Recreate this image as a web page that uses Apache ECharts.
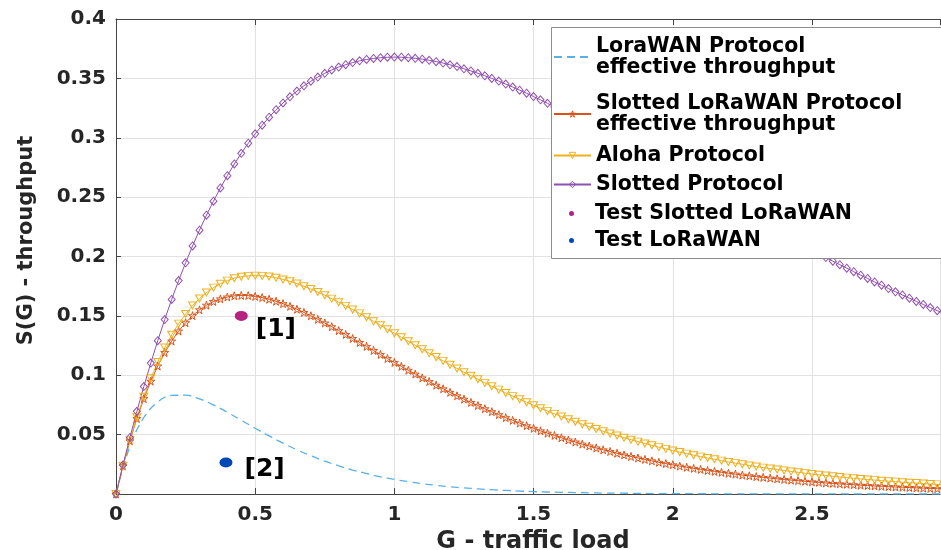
<!DOCTYPE html>
<html><head><meta charset="utf-8">
<script src="https://cdn.jsdelivr.net/npm/echarts@6/dist/echarts.min.js"></script>
<style>html,body{margin:0;padding:0;background:#fff}#c{width:941px;height:550px}</style>
</head><body><div id="c"></div>
<script>
// G - traffic load (fine grid used by the marked curves)
const gLoad = [0,0.025,0.05,0.075,0.1,0.125,0.15,0.175,0.2,0.225,0.25,0.275,0.3,0.325,0.35,0.375,0.4,0.425,0.45,0.475,
0.5,0.525,0.55,0.575,0.6,0.625,0.65,0.675,0.7,0.725,0.75,0.775,0.8,0.825,0.85,0.875,0.9,0.925,0.95,0.975,
1,1.025,1.05,1.075,1.1,1.125,1.15,1.175,1.2,1.225,1.25,1.275,1.3,1.325,1.35,1.375,1.4,1.425,1.45,1.475,
1.5,1.525,1.55,1.575,1.6,1.625,1.65,1.675,1.7,1.725,1.75,1.775,1.8,1.825,1.85,1.875,1.9,1.925,1.95,1.975,
2,2.025,2.05,2.075,2.1,2.125,2.15,2.175,2.2,2.225,2.25,2.275,2.3,2.325,2.35,2.375,2.4,2.425,2.45,2.475,
2.5,2.525,2.55,2.575,2.6,2.625,2.65,2.675,2.7,2.725,2.75,2.775,2.8,2.825,2.85,2.875,2.9,2.925,2.95,2.975];

const slottedProtocol = [0,0.0244,0.0476,0.0696,0.0905,0.1103,0.1291,0.1469,0.1638,0.1797,
0.1947,0.2089,0.2222,0.2348,0.2466,0.2577,0.2681,0.2779,0.2869,0.2954,
0.3033,0.3106,0.3173,0.3236,0.3293,0.3345,0.3393,0.3437,0.3476,0.3511,
0.3543,0.3571,0.3595,0.3615,0.3633,0.3648,0.3659,0.3668,0.3674,0.3678,
0.3679,0.3678,0.3674,0.3669,0.3662,0.3652,0.3641,0.3629,0.3614,0.3599,
0.3581,0.3563,0.3543,0.3522,0.3500,0.3477,0.3452,0.3427,0.3401,0.3375,
0.3347,0.3319,0.3290,0.3260,0.3230,0.3200,0.3169,0.3137,0.3106,0.3074,
0.3041,0.3008,0.2975,0.2942,0.2909,0.2875,0.2842,0.2808,0.2774,0.2741,
0.2707,0.2673,0.2639,0.2605,0.2572,0.2538,0.2504,0.2471,0.2438,0.2405,
0.2372,0.2339,0.2306,0.2274,0.2241,0.2209,0.2177,0.2146,0.2114,0.2083,
0.2052,0.2022,0.1991,0.1961,0.1931,0.1902,0.1872,0.1843,0.1815,0.1786,
0.1758,0.1730,0.1703,0.1676,0.1649,0.1622,0.1596,0.1570,0.1544,0.1519];

const alohaProtocol = [0,0.0238,0.0452,0.0646,0.0819,0.0974,0.1111,0.1233,0.1341,0.1435,
0.1516,0.1587,0.1646,0.1697,0.1738,0.1771,0.1797,0.1817,0.1830,0.1837,
0.1839,0.1837,0.1831,0.1821,0.1807,0.1791,0.1772,0.1750,0.1726,0.1701,
0.1674,0.1645,0.1615,0.1584,0.1553,0.1521,0.1488,0.1454,0.1421,0.1387,
0.1353,0.1320,0.1286,0.1252,0.1219,0.1186,0.1153,0.1121,0.1089,0.1057,
0.1026,0.0996,0.0966,0.0936,0.0907,0.0879,0.0851,0.0824,0.0798,0.0772,
0.0747,0.0722,0.0698,0.0675,0.0652,0.0630,0.0609,0.0588,0.0567,0.0548,
0.0528,0.0510,0.0492,0.0474,0.0457,0.0441,0.0425,0.0410,0.0395,0.0380,
0.0366,0.0353,0.0340,0.0327,0.0315,0.0303,0.0292,0.0281,0.0270,0.0260,
0.0250,0.0240,0.0231,0.0222,0.0214,0.0206,0.0198,0.0190,0.0183,0.0175,
0.0168,0.0162,0.0156,0.0149,0.0143,0.0138,0.0132,0.0127,0.0122,0.0117,
0.0112,0.0108,0.0104,0.0099,0.0095,0.0092,0.0088,0.0084,0.0081,0.0078];

const slottedLoRaWAN = [0,0.0237,0.0448,0.0636,0.0803,0.0950,0.1078,0.1191,0.1288,0.1372,
0.1442,0.1502,0.1551,0.1590,0.1621,0.1643,0.1659,0.1669,0.1672,0.1671,
0.1664,0.1654,0.1640,0.1623,0.1603,0.1580,0.1556,0.1529,0.1501,0.1471,
0.1440,0.1409,0.1376,0.1343,0.1310,0.1276,0.1243,0.1209,0.1175,0.1141,
0.1108,0.1075,0.1042,0.1010,0.0978,0.0947,0.0916,0.0886,0.0856,0.0827,
0.0799,0.0771,0.0745,0.0718,0.0693,0.0668,0.0643,0.0620,0.0597,0.0575,
0.0553,0.0532,0.0512,0.0493,0.0474,0.0455,0.0438,0.0420,0.0404,0.0388,
0.0372,0.0358,0.0343,0.0329,0.0316,0.0303,0.0291,0.0279,0.0267,0.0256,
0.0246,0.0235,0.0225,0.0216,0.0207,0.0198,0.0190,0.0182,0.0174,0.0167,
0.0159,0.0153,0.0146,0.0140,0.0134,0.0128,0.0122,0.0117,0.0112,0.0107,
0.0102,0.0098,0.0093,0.0089,0.0085,0.0082,0.0078,0.0074,0.0071,0.0068,
0.0065,0.0062,0.0059,0.0057,0.0054,0.0052,0.0049,0.0047,0.0045,0.0043];

// coarser grid for the dashed (unmarked) curve
const gLoadCoarse = [0,0.05,0.1,0.15,0.2,0.25,0.3,0.35,0.4,0.45,0.5,0.55,0.6,0.65,0.7,0.75,0.8,0.85,0.9,0.95,
1,1.05,1.1,1.15,1.2,1.25,1.3,1.35,1.4,1.45,1.5,1.55,1.6,1.65,1.7,1.75,1.8,2,2.5,3];
const loraWAN = [0,0.0401,0.0644,0.0775,0.0830,0.0832,0.0801,0.0750,0.0688,0.0621,0.0554,0.0489,0.0428,0.0372,0.0322,0.0277,0.0237,0.0202,0.0172,0.0145,
0.0123,0.0104,0.0087,0.0073,0.0061,0.0051,0.0043,0.0036,0.0030,0.0025,0.0020,0.0017,0.0014,0.0012,0.0010,0.0008,0.0007,0.0003,0.00004,0];

const testSlottedPoint = [0.45, 0.15];
const testLoRaWANPoint = [0.395, 0.0265];

const seriesNames = ['LoraWAN Protocol\neffective throughput','Slotted LoRaWAN Protocol\neffective throughput','Aloha Protocol','Slotted Protocol','Test Slotted LoRaWAN','Test LoRaWAN'];
const xTicks = {min: 0, max: 2.96, interval: 0.5};
const yTicks = {min: 0, max: 0.4, interval: 0.05};

const FONT = "'DejaVu Sans', sans-serif";
const STAR = 'path://M50,0L61.2,34.5L97.6,34.5L68.2,55.9L79.4,90.5L50,69.1L20.6,90.5L31.8,55.9L2.4,34.5L38.8,34.5Z';
const ELLIPSE = 'path://M0,50A50,50 0 1,1 100,50A50,50 0 1,1 0,50Z';
const C = {lora:'#5AB0E6', slora:'#D95319', aloha:'#EDB120', slotted:'#9050B0', tslot:'#B5237F', tlora:'#0047B8'};

const pairs = (xs, ys) => xs.map((x, i) => [x, ys[i]]);

const legendTops = [36, 93, 145, 174, 203, 230];
const legends = seriesNames.map((n, i) => ({
  show: true, orient: 'vertical', left: i >= 4 ? 569 : 553, top: legendTops[i], padding: 0, itemGap: 0,
  data: i >= 4 ? [{name: n, icon: 'circle'}] : [n],
  itemWidth: 37, itemHeight: i >= 4 ? 5 : 8, selectedMode: false, z: 5,
  itemStyle: {borderWidth: 1},
  textStyle: {fontFamily: FONT, fontWeight: 'bold', fontSize: 20.5, lineHeight: 21, color: '#000'}
}));

const hollow = (col) => ({color: 'rgba(0,0,0,0)', borderColor: col, borderWidth: 1});

const chart = echarts.init(document.getElementById('c'), null, {renderer: 'canvas'});
chart.setOption({
  animation: false,
  backgroundColor: '#fff',
  grid: {left: 116, right: 1, top: 19, bottom: 56, containLabel: false, outerBoundsMode: 'none'},
  legend: legends,
  graphic: [{type: 'rect', z: 3, shape: {x: 551.5, y: 27.5, width: 400, height: 231},
    style: {fill: '#fff', stroke: '#8c8c8c', lineWidth: 1}}],
  xAxis: [{
    type: 'value', min: xTicks.min, max: xTicks.max, interval: xTicks.interval,
    name: 'G - traffic load', nameLocation: 'middle', nameGap: 34,
    nameTextStyle: {fontFamily: FONT, fontWeight: 'bold', fontSize: 24, color: '#262626', padding: [0, 0, 0, 10]},
    axisLine: {show: true, onZero: false, lineStyle: {color: '#444', width: 1}},
    axisTick: {show: true, inside: true, length: 6, lineStyle: {color: '#444'}},
    axisLabel: {fontFamily: FONT, fontWeight: 'bold', fontSize: 20, color: '#262626', margin: 11, showMaxLabel: false},
    splitLine: {show: true, lineStyle: {color: '#e2e2e2', width: 1}}
  }, {
    type: 'value', position: 'top', min: xTicks.min, max: xTicks.max, interval: xTicks.interval,
    axisLine: {show: true, onZero: false, lineStyle: {color: '#444', width: 1}},
    axisTick: {show: true, inside: true, length: 6, lineStyle: {color: '#444'}},
    axisLabel: {show: false}, splitLine: {show: false}
  }],
  yAxis: {
    type: 'value', min: yTicks.min, max: yTicks.max, interval: yTicks.interval,
    name: 'S(G) - throughput', nameLocation: 'middle', nameGap: 79, nameRotate: 90,
    nameTextStyle: {fontFamily: FONT, fontWeight: 'bold', fontSize: 21, color: '#262626', padding: [0, 0, 0, 32]},
    axisLine: {show: true, lineStyle: {color: '#444', width: 1}},
    axisTick: {show: true, inside: true, length: 5, lineStyle: {color: '#444'}},
    axisLabel: {fontFamily: FONT, fontWeight: 'bold', fontSize: 20, color: '#262626', margin: 10,
      formatter: v => (v === 0 ? '' : v)},
    splitLine: {show: true, lineStyle: {color: '#e2e2e2', width: 1}}
  },
  series: [
    {name: seriesNames[0], type: 'line', data: pairs(gLoadCoarse, loraWAN), symbol: 'none', smooth: 0.4,
      itemStyle: {color: 'rgba(0,0,0,0)'}, lineStyle: {color: C.lora, width: 1.3, type: [8, 5]}, z: 2},
    {name: seriesNames[1], type: 'line', data: pairs(gLoad, slottedLoRaWAN), symbol: STAR, symbolSize: 8,
      itemStyle: hollow(C.slora), lineStyle: {color: C.slora, width: 1}, z: 2},
    {name: seriesNames[2], type: 'line', data: pairs(gLoad, alohaProtocol), symbol: 'triangle', symbolRotate: 180, symbolSize: [8, 7],
      itemStyle: hollow(C.aloha), lineStyle: {color: C.aloha, width: 1}, z: 2},
    {name: seriesNames[3], type: 'line', data: pairs(gLoad, slottedProtocol), symbol: 'diamond', symbolSize: [7, 8],
      itemStyle: hollow(C.slotted), lineStyle: {color: C.slotted, width: 1}, z: 2},
    {name: seriesNames[4], type: 'scatter', data: [testSlottedPoint], symbol: ELLIPSE, symbolSize: [13, 10],
      itemStyle: {color: C.tslot, opacity: 1}, z: 2,
      label: {show: true, formatter: '[1]', position: 'right', distance: 8, offset: [0, 14],
        fontFamily: FONT, fontWeight: 'bold', fontSize: 25, color: '#000'}},
    {name: seriesNames[5], type: 'scatter', data: [testLoRaWANPoint], symbol: ELLIPSE, symbolSize: [13, 10],
      itemStyle: {color: C.tlora, opacity: 1}, z: 2,
      label: {show: true, formatter: '[2]', position: 'right', distance: 12, offset: [0, 7],
        fontFamily: FONT, fontWeight: 'bold', fontSize: 25, color: '#000'}}
  ]
});
</script></body></html>
